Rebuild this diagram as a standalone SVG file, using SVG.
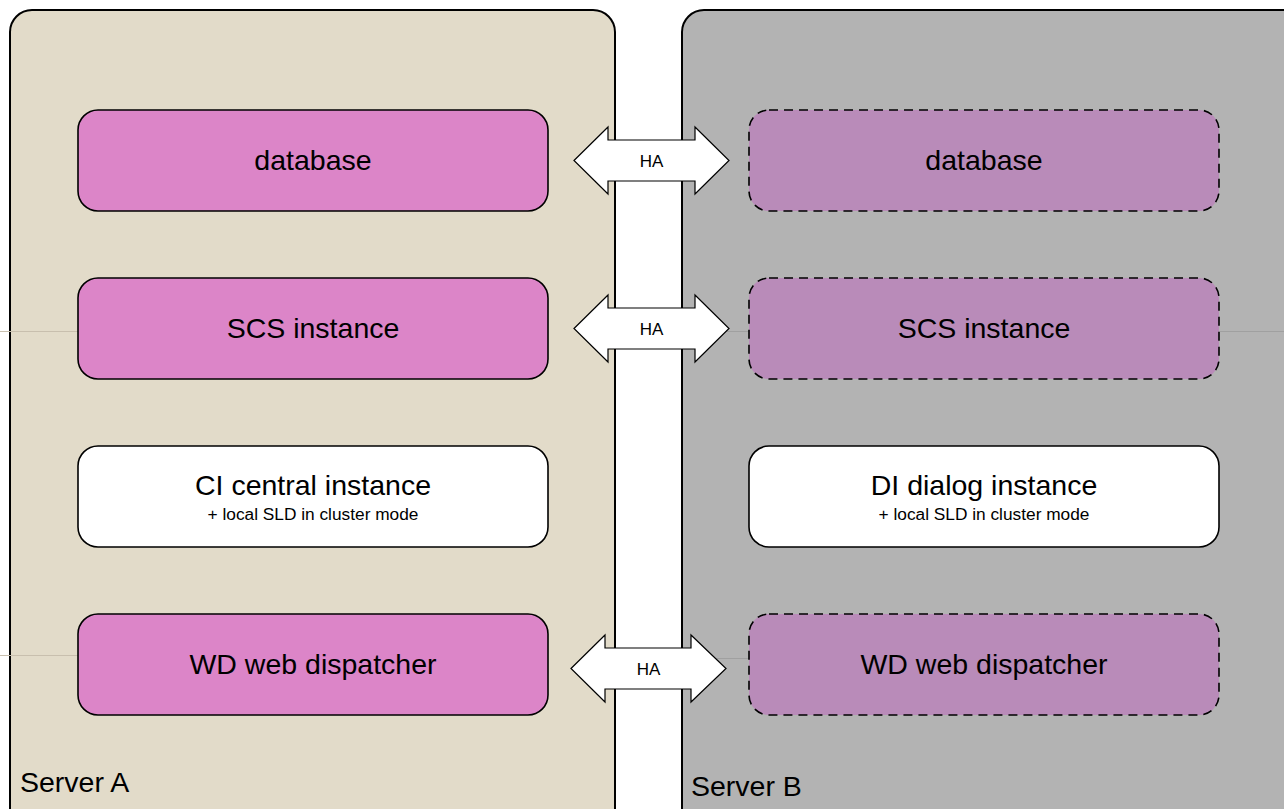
<svg xmlns="http://www.w3.org/2000/svg" width="1284" height="809" viewBox="0 0 1284 809">
<defs>
<style>
.panel{stroke:#000;stroke-width:2}
.a{fill:#e2dbc9}
.b{fill:#b3b3b3}
.box{stroke:#000;stroke-width:1.6}
.pink{fill:#dc85c8}
.ghost{fill:#b98bb9;stroke-dasharray:9 6}
.white{fill:#fff}
.t{font-family:"Liberation Sans",Arial,sans-serif;fill:#000;text-anchor:middle}
.big{font-size:28.5px}
.small{font-size:17.3px}
.ha{font-size:17px}
.lbl{font-family:"Liberation Sans",Arial,sans-serif;font-size:28.5px;fill:#000}
.arrow{fill:#fff;stroke:#000;stroke-width:1.2}
.faint{stroke:#c8bfae;stroke-width:1}
</style>
</defs>
<rect width="1284" height="809" fill="#fff"/>
<g id="serverA">
<rect class="panel a" x="10" y="10" width="605" height="820" rx="22"/>
<text class="lbl" x="20" y="792">Server A</text>
</g>
<g id="serverB">
<rect class="panel b" x="682" y="10" width="640" height="820" rx="22"/>
<text class="lbl" x="691" y="796">Server B</text>
</g>
<g id="faint-lines">
<line class="faint" x1="0" y1="331.5" x2="78" y2="331.5"/>
<line class="faint" x1="0" y1="655.5" x2="78" y2="655.5"/>
<line x1="683" y1="331.5" x2="749" y2="331.5" stroke="#a0a0a0"/>
<line x1="1220" y1="331.5" x2="1284" y2="331.5" stroke="#a0a0a0"/>
<line x1="683" y1="658.5" x2="749" y2="658.5" stroke="#a0a0a0"/>
</g>
<g id="dbA">
<rect class="box pink" x="78" y="110" width="470" height="101" rx="20"/>
<text class="t big" x="313" y="170">database</text>
</g>
<g id="scsA">
<rect class="box pink" x="78" y="278" width="470" height="101" rx="20"/>
<text class="t big" x="313" y="338">SCS instance</text>
</g>
<g id="ciA">
<rect class="box white" x="78" y="446" width="470" height="101" rx="20"/>
<text class="t big" x="313" y="495">CI central instance</text>
<text class="t small" x="313" y="520">+ local SLD in cluster mode</text>
</g>
<g id="wdA">
<rect class="box pink" x="78" y="614" width="470" height="101" rx="20"/>
<text class="t big" x="313" y="674">WD web dispatcher</text>
</g>
<g id="dbB">
<rect class="box ghost" x="749" y="110" width="470" height="101" rx="20"/>
<text class="t big" x="984" y="170">database</text>
</g>
<g id="scsB">
<rect class="box ghost" x="749" y="278" width="470" height="101" rx="20"/>
<text class="t big" x="984" y="338">SCS instance</text>
</g>
<g id="diB">
<rect class="box white" x="749" y="446" width="470" height="101" rx="20"/>
<text class="t big" x="984" y="495">DI dialog instance</text>
<text class="t small" x="984" y="520">+ local SLD in cluster mode</text>
</g>
<g id="wdB">
<rect class="box ghost" x="749" y="614" width="470" height="101" rx="20"/>
<text class="t big" x="984" y="674">WD web dispatcher</text>
</g>
<g id="connectors">
<g id="ha1">
<polygon class="arrow" points="574,160.5 608,127 608,140 695,140 695,127 729,160.5 695,194 695,181 608,181 608,194"/>
<text class="t ha" x="651.5" y="166.5">HA</text>
</g>
<g id="ha2">
<polygon class="arrow" points="574,328.5 608,295 608,308 695,308 695,295 729,328.5 695,362 695,349 608,349 608,362"/>
<text class="t ha" x="651.5" y="334.5">HA</text>
</g>
<g id="ha3">
<polygon class="arrow" points="571,668.5 605,635 605,648 691,648 691,635 726,668.5 691,702 691,689 605,689 605,702"/>
<text class="t ha" x="648.5" y="674.5">HA</text>
</g>
</g>
</svg>
